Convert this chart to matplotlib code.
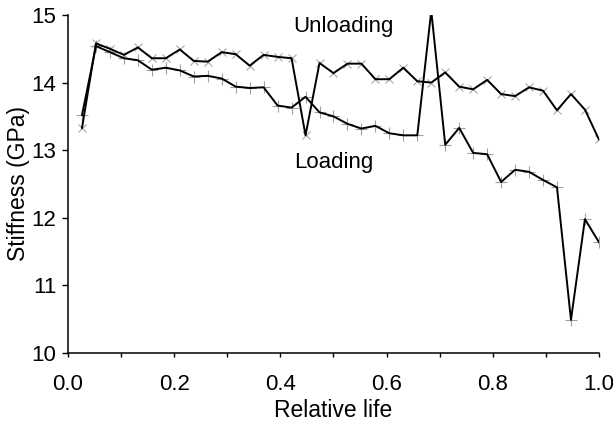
import matplotlib
matplotlib.use("Agg")
from matplotlib import pyplot as plt
from matplotlib.ticker import MultipleLocator

plt.rcParams['font.family'] = ['Liberation Sans', 'DejaVu Sans']

# relative life, 38 measurements
life = [i / 38 for i in range(1, 39)]

unloading = [13.33, 14.58, 14.50, 14.41, 14.52, 14.36, 14.36, 14.49, 14.32, 14.31,
             14.45, 14.42, 14.25, 14.41, 14.38, 14.36, 13.22, 14.29, 14.14, 14.28,
             14.28, 14.05, 14.05, 14.22, 14.02, 14.00, 14.15, 13.94, 13.90, 14.04,
             13.83, 13.80, 13.93, 13.88, 13.59, 13.83, 13.60, 13.16]

loading = [13.52, 14.54, 14.45, 14.36, 14.33, 14.19, 14.22, 14.18, 14.09, 14.10,
           14.06, 13.94, 13.92, 13.93, 13.66, 13.63, 13.79, 13.56, 13.50, 13.39,
           13.32, 13.36, 13.25, 13.22, 13.22, 15.06, 13.08, 13.33, 12.96, 12.94,
           12.53, 12.71, 12.68, 12.56, 12.45, 10.49, 11.98, 11.64]

fig = plt.figure(figsize=(6.13, 4.22), dpi=100)
ax = fig.add_axes([0.111, 0.1635, 0.866, 0.801])

# grey markers underneath, black lines on top
ax.plot(life, unloading, ls="none", marker="x", markersize=6,
        markeredgecolor="#a8a8a8", markeredgewidth=0.8, zorder=1)
ax.plot(life, loading, ls="none", marker="+", markersize=8,
        markeredgecolor="#a0a0a0", markeredgewidth=0.8, zorder=1)
ax.plot(life, unloading, color="black", lw=1.4, zorder=2)
ax.plot(life, loading, color="black", lw=1.4, zorder=2)

ax.text(0.425, 14.745, "Unloading", fontsize=16, va="baseline", ha="left")
ax.text(0.425, 12.74, "Loading", fontsize=16, va="baseline", ha="left")

ax.set_xlim(0, 1)
ax.set_ylim(10, 15)
ax.xaxis.set_major_locator(MultipleLocator(0.2))
ax.xaxis.set_minor_locator(MultipleLocator(0.1))
ax.yaxis.set_major_locator(MultipleLocator(1))
ax.set_xticklabels(["%.1f" % v for v in ax.get_xticks()])

for s in ["top", "right"]:
    ax.spines[s].set_visible(False)
ax.spines["left"].set_linewidth(1.1)
ax.spines["bottom"].set_linewidth(1.1)
ax.tick_params(which="both", direction="out", width=1.0, labelsize=16)
ax.tick_params(axis="x", which="both", length=3, pad=12)
ax.tick_params(axis="y", which="major", length=4.5, pad=4)

ax.set_xlabel("Relative life", fontsize=16.5, labelpad=3)
ax.set_ylabel("Stiffness (GPa)", fontsize=16.5, labelpad=1)

fig.savefig("out.png", dpi=100)
